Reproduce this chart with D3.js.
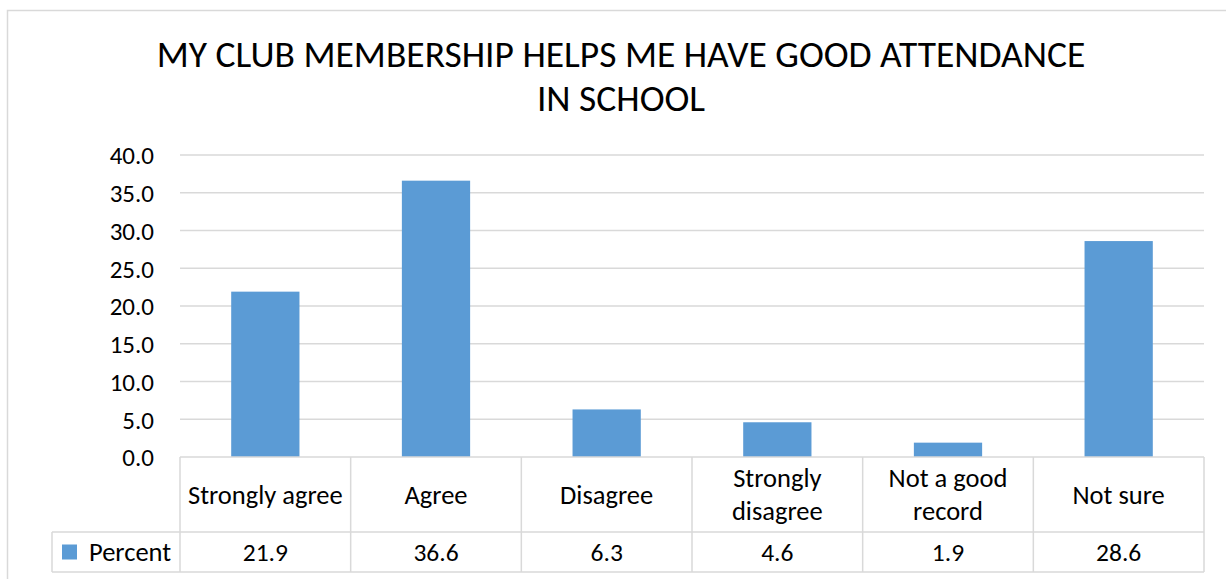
<!DOCTYPE html>
<html>
<head>
<meta charset="utf-8">
<script src="https://cdn.jsdelivr.net/npm/d3@7"></script>
<style>
  html, body { margin: 0; padding: 0; background: #fff; }
  svg { display: block; }
  text { font-family: Carlito, Lato, "Open Sans", sans-serif; fill: #000; }
</style>
</head>
<body>
<svg id="chart"></svg>
<script>
// chart data
const titleLines = ["MY CLUB MEMBERSHIP HELPS ME HAVE GOOD ATTENDANCE", "IN SCHOOL"];
const categories = ["Strongly agree", "Agree", "Disagree", "Strongly disagree", "Not a good record", "Not sure"];
const seriesName = "Percent";
const percentValues = [21.9, 36.6, 6.3, 4.6, 1.9, 28.6];
const yTicks = [0, 5, 10, 15, 20, 25, 30, 35, 40];

const width = 1226, height = 579;
const barColor = "#5b9bd5";
const lineColor = "#d9d9d9";

const plot = { left: 180, right: 1204, top: 155, bottom: 457 };
const table = { legendLeft: 52, catBottom: 532, rowBottom: 572 };
const catFont = "26.5px";

const svg = d3.select("#chart")
  .attr("width", width)
  .attr("height", height);

// outer chart border (runs off the right/bottom like the original)
svg.append("rect")
  .attr("x", 7.5)
  .attr("y", 10.5)
  .attr("width", 1228)
  .attr("height", 590)
  .attr("fill", "#fff")
  .attr("stroke", lineColor)
  .attr("stroke-width", 1.5);

// title
svg.append("text")
  .attr("x", 621)
  .attr("y", 67)
  .attr("text-anchor", "middle")
  .style("font-size", "37.5px")
  .selectAll("tspan")
  .data(titleLines)
  .enter()
  .append("tspan")
    .attr("x", 621)
    .attr("dy", (d, i) => i === 0 ? 0 : 44)
    .text(d => d);

const xScale = d3.scaleBand()
  .domain(categories)
  .range([plot.left, plot.right])
  .padding(0);

const yScale = d3.scaleLinear()
  .domain([0, 40])
  .range([plot.bottom, plot.top]);

// gridlines
svg.append("g")
  .selectAll("line")
  .data(yTicks.filter(t => t > 0))
  .enter()
  .append("line")
    .attr("x1", plot.left)
    .attr("x2", plot.right)
    .attr("y1", d => yScale(d))
    .attr("y2", d => yScale(d))
    .attr("stroke", lineColor)
    .attr("stroke-width", 1.5);

// y axis labels
const yAxis = d3.axisLeft(yScale)
  .tickValues(yTicks)
  .tickFormat(d3.format(".1f"))
  .tickSize(0)
  .tickPadding(26);

const yg = svg.append("g")
  .attr("transform", `translate(${plot.left}, 0)`)
  .call(yAxis);
yg.select(".domain").remove();
yg.selectAll("text")
  .attr("font-family", null)
  .style("font-size", "25px")
  .attr("dy", "0.35em");

// bars
const barW = xScale.bandwidth() * 0.4;
svg.append("g")
  .selectAll("rect")
  .data(percentValues)
  .enter()
  .append("rect")
    .attr("x", (d, i) => xScale(categories[i]) + (xScale.bandwidth() - barW) / 2)
    .attr("width", barW)
    .attr("y", d => yScale(d))
    .attr("height", d => yScale(0) - yScale(d))
    .attr("fill", barColor);

// data table
const tg = svg.append("g")
  .attr("stroke", lineColor)
  .attr("stroke-width", 1.5)
  .attr("fill", "none");

// axis line / top of table
tg.append("line")
  .attr("x1", plot.left).attr("x2", plot.right)
  .attr("y1", yScale(0)).attr("y2", yScale(0));
tg.append("line")
  .attr("x1", table.legendLeft).attr("x2", plot.right)
  .attr("y1", table.catBottom).attr("y2", table.catBottom);
tg.append("line")
  .attr("x1", table.legendLeft).attr("x2", plot.right)
  .attr("y1", table.rowBottom).attr("y2", table.rowBottom);
tg.append("line")
  .attr("x1", table.legendLeft).attr("x2", table.legendLeft)
  .attr("y1", table.catBottom).attr("y2", table.rowBottom);

const colEdges = categories.map(c => xScale(c)).concat([plot.right]);
tg.selectAll(".col-edge")
  .data(colEdges)
  .enter()
  .append("line")
    .attr("class", "col-edge")
    .attr("x1", d => d).attr("x2", d => d)
    .attr("y1", yScale(0)).attr("y2", table.rowBottom);

// category labels with wrapping
function wrapLabel(label, maxW) {
  const probe = svg.append("text").style("font-size", catFont);
  const words = label.split(" ");
  const lines = [];
  let cur = "";
  words.forEach(w => {
    const test = cur ? cur + " " + w : w;
    probe.text(test);
    if (cur && probe.node().getComputedTextLength() > maxW) {
      lines.push(cur);
      cur = w;
    } else {
      cur = test;
    }
  });
  lines.push(cur);
  probe.remove();
  return lines;
}

const catMid = (yScale(0) + table.catBottom) / 2;
const lineH = 33;
categories.forEach(c => {
  const lines = wrapLabel(c, xScale.bandwidth() - 10);
  const cx = xScale(c) + xScale.bandwidth() / 2;
  const t = svg.append("text")
    .attr("text-anchor", "middle")
    .style("font-size", catFont);
  lines.forEach((ln, j) => {
    t.append("tspan")
      .attr("x", cx)
      .attr("y", catMid + (j - (lines.length - 1) / 2) * lineH)
      .attr("dy", "0.35em")
      .text(ln);
  });
});

// value row
const rowMid = (table.catBottom + table.rowBottom) / 2;
svg.append("g")
  .selectAll("text")
  .data(percentValues)
  .enter()
  .append("text")
    .attr("x", (d, i) => xScale(categories[i]) + xScale.bandwidth() / 2)
    .attr("y", rowMid)
    .attr("dy", "0.35em")
    .attr("text-anchor", "middle")
    .style("font-size", "25.5px")
    .text(d => d3.format(".1f")(d));

// legend key
svg.append("rect")
  .attr("x", 62)
  .attr("y", rowMid - 7.5)
  .attr("width", 15)
  .attr("height", 15)
  .attr("fill", barColor);
svg.append("text")
  .attr("x", 89)
  .attr("y", rowMid)
  .attr("dy", "0.35em")
  .style("font-size", "26.5px")
  .text(seriesName);
</script>
</body>
</html>
